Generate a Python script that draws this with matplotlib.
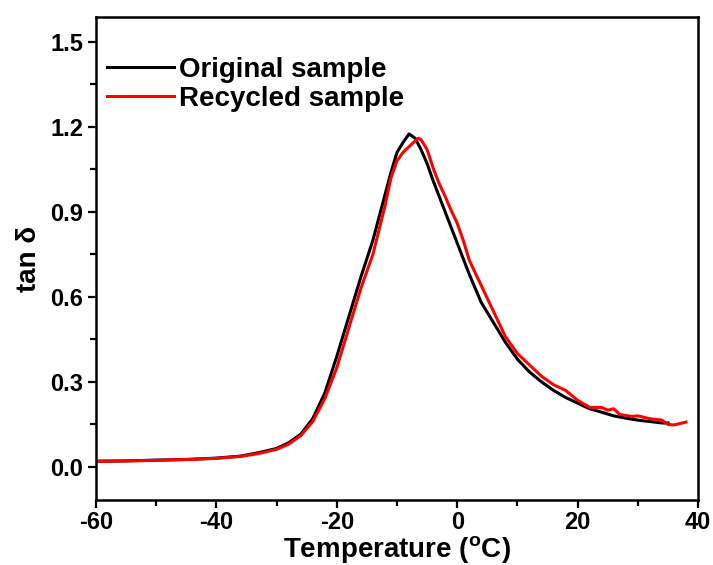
import numpy as np
import matplotlib.pyplot as plt

plt.rcParams['font.family'] = ['Liberation Sans', 'DejaVu Sans']
plt.rcParams['font.weight'] = 'bold'
plt.rcParams['axes.labelweight'] = 'bold'
plt.rcParams['axes.unicode_minus'] = False
plt.rcParams['mathtext.fontset'] = 'custom'
plt.rcParams['mathtext.rm'] = 'Liberation Sans:bold'
plt.rcParams['mathtext.bf'] = 'Liberation Sans:bold'

# original sample
t_orig = [-60, -55, -50, -45, -40, -36, -33, -30, -28, -26, -24, -22, -20, -18, -16,
          -14, -12, -11, -10, -9, -8, -7, -6, -5, -4, -2, 0, 2, 4, 6, 8, 10, 12, 14,
          16, 18, 20, 22, 24, 26, 28, 30, 32, 34, 35]
tan_orig = [0.020, 0.021, 0.024, 0.026, 0.031, 0.038, 0.050, 0.065, 0.085, 0.115, 0.17,
            0.26, 0.39, 0.53, 0.67, 0.80, 0.96, 1.04, 1.11, 1.145, 1.175, 1.16, 1.12,
            1.07, 1.01, 0.90, 0.79, 0.68, 0.58, 0.51, 0.44, 0.38, 0.335, 0.30, 0.27,
            0.245, 0.225, 0.205, 0.193, 0.18, 0.172, 0.165, 0.16, 0.155, 0.155]

# recycled sample
t_rec = [-60, -55, -50, -45, -40, -36, -33, -30, -28, -26, -24, -22, -20, -18, -16,
         -14, -12, -11, -10, -9, -8, -7, -6.5, -6, -5, -4, -3, -2, -1, 0, 1, 2, 4, 6, 8,
         10, 12, 14, 16, 18, 20, 22, 24, 25, 26, 27, 29, 30, 32, 34, 35, 36, 38]
tan_rec = [0.020, 0.021, 0.023, 0.026, 0.030, 0.037, 0.047, 0.062, 0.080, 0.11, 0.16,
           0.24, 0.35, 0.49, 0.63, 0.75, 0.92, 1.02, 1.08, 1.11, 1.13, 1.15, 1.16, 1.155,
           1.12, 1.055, 1.00, 0.955, 0.905, 0.86, 0.80, 0.73, 0.64, 0.55, 0.46, 0.40,
           0.36, 0.32, 0.29, 0.27, 0.235, 0.21, 0.21, 0.20, 0.205, 0.185, 0.178, 0.18,
           0.17, 0.165, 0.15, 0.148, 0.158]

fig = plt.figure(figsize=(7.13, 5.65), dpi=100)
ax = fig.add_axes([0.1346, 0.115, 0.8444, 0.855])

ax.plot(t_orig, tan_orig, color='black', linewidth=2.2, label='Original sample')
ax.plot(t_rec, tan_rec, color='#ff0000', linewidth=2.2, label='Recycled sample')

ax.set_xlim(-60, 40)
ax.set_ylim(-0.117, 1.588)
ax.set_xticks(np.arange(-60, 41, 20))
ax.set_xticks(np.arange(-50, 40, 20), minor=True)
ax.set_yticks([0.0, 0.3, 0.6, 0.9, 1.2, 1.5])
ax.set_yticks([0.15, 0.45, 0.75, 1.05, 1.35], minor=True)
ax.set_yticklabels(['0.0', '0.3', '0.6', '0.9', '1.2', '1.5'])

ax.tick_params(which='major', direction='out', length=6, width=1.6, labelsize=17, pad=3)
ax.tick_params(axis='x', which='major', pad=2)
ax.tick_params(which='minor', direction='out', length=4, width=1.6)
for s in ax.spines.values():
    s.set_linewidth(1.8)

ax.set_xlabel(r'Temperature ($^{\mathrm{o}}$C)', fontsize=20, fontweight='bold', labelpad=0)
ax.set_ylabel(r'tan δ', fontsize=20, fontweight='bold', labelpad=6)

ax.legend(loc='upper left', bbox_to_anchor=(0.0, 0.94), borderaxespad=0, frameon=False,
          fontsize=20, handlelength=2.4, handletextpad=0.2, labelspacing=0.1)

fig.savefig('out.png', dpi=100)
